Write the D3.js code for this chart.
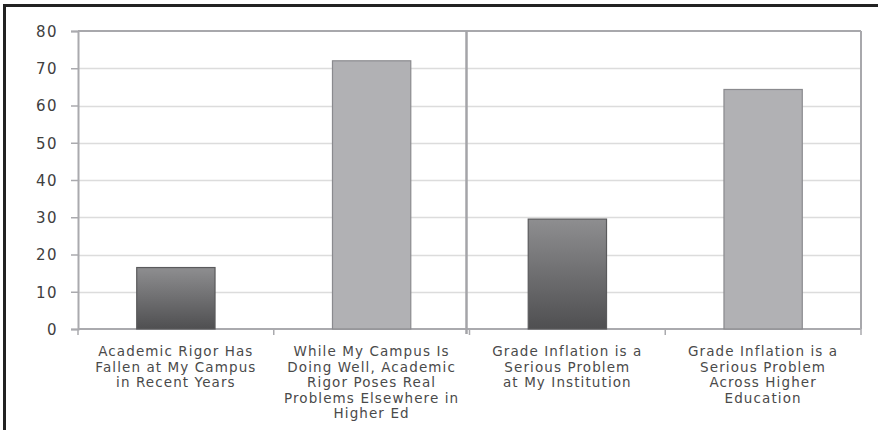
<!DOCTYPE html>
<html>
<head>
<meta charset="utf-8">
<script src="https://cdn.jsdelivr.net/npm/d3@7"></script>
<style>
  html, body { margin: 0; padding: 0; background: #fff; }
  svg { display: block; }
  text { font-family: "DejaVu Sans", sans-serif; }
</style>
</head>
<body>
<svg id="chart" width="878" height="430"></svg>
<script>
// Survey responses (percent agreeing)
const categories = [
  ["Academic Rigor Has", "Fallen at My Campus", "in Recent Years"],
  ["While My Campus Is", "Doing Well, Academic", "Rigor Poses Real", "Problems Elsewhere in", "Higher Ed"],
  ["Grade Inflation is a", "Serious Problem", "at My Institution"],
  ["Grade Inflation is a", "Serious Problem", "Across Higher", "Education"]
];
const values = [16.5, 72, 29.5, 64.3];
// "local" = about the respondent's own campus, "general" = about higher ed at large
const kinds = ["local", "general", "local", "general"];
const yTicks = [0, 10, 20, 30, 40, 50, 60, 70, 80];

const svg = d3.select("#chart");
const W = 878, H = 430;
const plot = { left: 78, right: 861, top: 31, bottom: 329 };

// Outer frame: top and left rules
svg.append("line").attr("x1", 4).attr("x2", W).attr("y1", 5.5).attr("y2", 5.5)
  .attr("stroke", "#222").attr("stroke-width", 3);
svg.append("line").attr("x1", 4.5).attr("x2", 4.5).attr("y1", 4).attr("y2", H)
  .attr("stroke", "#222").attr("stroke-width", 3);

const idx = d3.range(categories.length);
const x = d3.scaleBand().domain(idx).range([plot.left, plot.right]).paddingInner(0).paddingOuter(0);
const y = d3.scaleLinear().domain([0, 80]).range([plot.bottom, plot.top]);

// Gradient for the own-campus bars
const defs = svg.append("defs");
const grad = defs.append("linearGradient").attr("id", "darkBar")
  .attr("x1", 0).attr("x2", 0).attr("y1", 0).attr("y2", 1);
grad.append("stop").attr("offset", "0%").attr("stop-color", "#8e8e90");
grad.append("stop").attr("offset", "100%").attr("stop-color", "#4f4f51");

// Gridlines
svg.append("g").selectAll("line").data(yTicks.filter(t => t > 0 && t < 80)).join("line")
  .attr("x1", plot.left).attr("x2", plot.right)
  .attr("y1", d => Math.round(y(d)) + 0.5).attr("y2", d => Math.round(y(d)) + 0.5)
  .attr("stroke", "#dcdcdc").attr("stroke-width", 1.5);

// Plot border (top and right)
svg.append("line").attr("x1", plot.left).attr("x2", plot.right)
  .attr("y1", y(80)).attr("y2", y(80)).attr("stroke", "#a8a8ac").attr("stroke-width", 2);
svg.append("line").attr("x1", plot.right).attr("x2", plot.right)
  .attr("y1", y(80)).attr("y2", y(0)).attr("stroke", "#a8a8ac").attr("stroke-width", 2);

// Y axis
const yAxis = d3.axisLeft(y).tickValues(yTicks).tickSize(7).tickPadding(13);
const gy = svg.append("g").attr("transform", `translate(${plot.left},0)`).call(yAxis);
gy.select(".domain").attr("stroke", "#aaaaae").attr("stroke-width", 2);
gy.selectAll(".tick line").attr("stroke", "#aaaaae").attr("stroke-width", 1.5);
gy.selectAll(".tick text").attr("fill", "#404040").style("font-size", "15px")
  .style("letter-spacing", "1.5px").attr("dy", "0.35em");

// X axis baseline with category ticks
const gx = svg.append("g").attr("transform", `translate(0,${plot.bottom})`);
gx.append("line").attr("x1", plot.left).attr("x2", plot.right).attr("y1", 0).attr("y2", 0)
  .attr("stroke", "#aaaaae").attr("stroke-width", 2);
gx.selectAll("line.tk").data(d3.range(categories.length + 1)).join("line").attr("class", "tk")
  .attr("x1", d => d < categories.length ? x(d) : plot.right)
  .attr("x2", d => d < categories.length ? x(d) : plot.right)
  .attr("y1", 0).attr("y2", 6).attr("stroke", "#aaaaae").attr("stroke-width", 1.5);

// Bars
const barW = x.bandwidth() * 0.4;
svg.append("g").selectAll("rect").data(idx).join("rect")
  .attr("x", i => x(i) + (x.bandwidth() - barW) / 2)
  .attr("y", i => y(values[i]))
  .attr("width", barW)
  .attr("height", i => y(0) - y(values[i]))
  .attr("fill", i => kinds[i] === "local" ? "url(#darkBar)" : "#b1b1b4")
  .attr("stroke", i => kinds[i] === "local" ? "#5a5a5c" : "#8a8a8e")
  .attr("stroke-width", 1.2);

// Divider between the campus-rigor and grade-inflation questions
const divX = x(2) - 3;
svg.append("line").attr("x1", divX).attr("x2", divX).attr("y1", plot.top).attr("y2", plot.bottom + 5)
  .attr("stroke", "#a4a4a8").attr("stroke-width", 2.5);

// Category labels
const lab = svg.append("g").selectAll("text").data(idx).join("text")
  .attr("text-anchor", "middle")
  .attr("fill", "#4a4a4a")
  .style("font-size", "13.5px")
  .style("letter-spacing", "1.1px");
lab.each(function (i) {
  const t = d3.select(this);
  categories[i].forEach((line, k) => {
    t.append("tspan").attr("x", x(i) + x.bandwidth() / 2).attr("y", 356 + k * 15.5).text(line);
  });
});
</script>
</body>
</html>
